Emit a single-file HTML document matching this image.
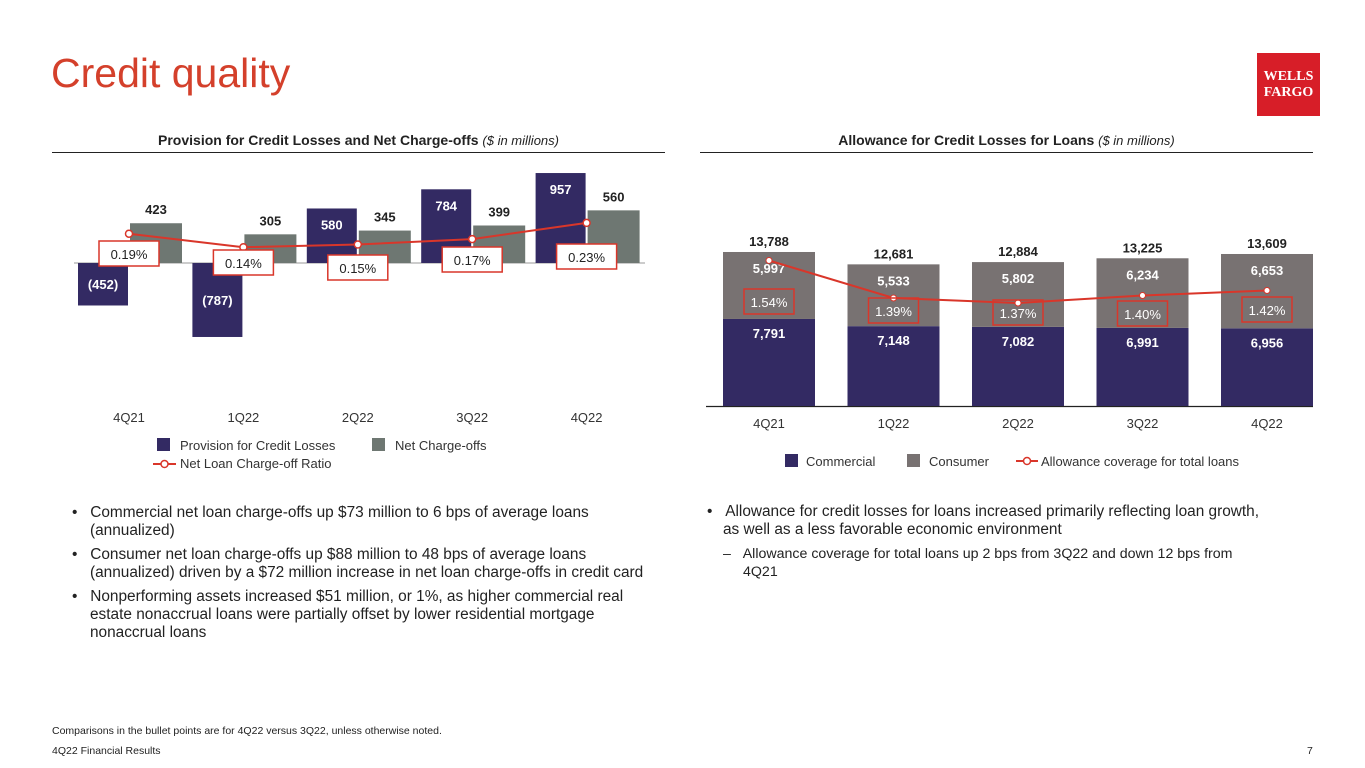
<!DOCTYPE html>
<html><head><meta charset="utf-8">
<style>
body{margin:0;width:1365px;height:768px;background:#fff;font-family:"Liberation Sans",sans-serif;position:relative;overflow:hidden;color:#222}
.a{position:absolute;white-space:nowrap}
.hdr{font-weight:bold;font-size:14px;color:#222}
.hdr i{font-weight:normal;font-size:13px}
.b{font-size:15.4px;color:#222;line-height:18px}
svg text{font-family:"Liberation Sans",sans-serif}
</style></head><body>
<div class="a" style="left:51px;top:50px;font-size:41px;color:#D4402B">Credit quality</div>
<div class="a" style="left:1257px;top:53px;width:63px;height:63px;background:#D71E28;color:#fff;font-family:'Liberation Serif',serif;font-weight:bold;font-size:14px;line-height:16px;text-align:center;display:flex;align-items:center;justify-content:center">WELLS<br>FARGO</div>

<div class="a hdr" style="left:52px;width:613px;top:132px;text-align:center">Provision for Credit Losses and Net Charge-offs <i>($ in millions)</i></div>
<div class="a" style="left:52px;top:152px;width:613px;height:1px;background:#222"></div>
<div class="a hdr" style="left:700px;width:613px;top:132px;text-align:center">Allowance for Credit Losses for Loans <i>($ in millions)</i></div>
<div class="a" style="left:700px;top:152px;width:613px;height:1px;background:#222"></div>

<svg id="left" class="a" style="left:0;top:0" width="680" height="480"></svg>
<svg id="right" class="a" style="left:680px;top:0" width="685" height="480"></svg>

<div class="a b" style="left:72px;top:504px">
<div>•&nbsp;&nbsp;&nbsp;Commercial net loan charge-offs up $73 million to 6 bps of average loans</div>
<div style="padding-left:18px">(annualized)</div>
<div style="margin-top:6px">•&nbsp;&nbsp;&nbsp;Consumer net loan charge-offs up $88 million to 48 bps of average loans</div>
<div style="padding-left:18px">(annualized) driven by a $72 million increase in net loan charge-offs in credit card</div>
<div style="margin-top:6px">•&nbsp;&nbsp;&nbsp;Nonperforming assets increased $51 million, or 1%, as higher commercial real</div>
<div style="padding-left:18px">estate nonaccrual loans were partially offset by lower residential mortgage</div>
<div style="padding-left:18px">nonaccrual loans</div>
</div>
<div class="a b" style="left:707px;top:503px">
<div>•&nbsp;&nbsp;&nbsp;Allowance for credit losses for loans increased primarily reflecting loan growth,</div>
<div style="padding-left:16px">as well as a less favorable economic environment</div>
<div style="padding-left:16px;margin-top:6px;font-size:14.2px">–&nbsp;&nbsp;&nbsp;Allowance coverage for total loans up 2 bps from 3Q22 and down 12 bps from</div>
<div style="padding-left:36px;font-size:14.2px">4Q21</div>
</div>
<div class="a" style="left:52px;top:725px;font-size:10.5px">Comparisons in the bullet points are for 4Q22 versus 3Q22, unless otherwise noted.</div>
<div class="a" style="left:52px;top:745px;font-size:10.5px">4Q22 Financial Results</div>
<div class="a" style="left:1307px;top:745px;font-size:10.5px">7</div>

<script>
const quarters=["4Q21","1Q22","2Q22","3Q22","4Q22"];
const provision=[-452,-787,580,784,957];
const chargeOffs=[423,305,345,399,560];
const ncoRatio=[0.19,0.14,0.15,0.17,0.23];
const commercial=[7791,7148,7082,6991,6956];
const consumer=[5997,5533,5802,6234,6653];
const totals=[13788,12681,12884,13225,13609];
const coverage=[1.54,1.39,1.37,1.40,1.42];

const NS="http://www.w3.org/2000/svg";
function mk(svg,tag,at,txt){const e=document.createElementNS(NS,tag);for(const k in at)e.setAttribute(k,at[k]);if(txt!=null)e.textContent=txt;svg.appendChild(e);return e;}
const NAVY="#332A63",G1="#6E7772",G2="#787272",RED="#D9362A";

// LEFT
const L=document.getElementById('left');
const lx=i=>129+i*114.4;
const ly=v=>263-v*0.094;
const lr=v=>285-270*v;
mk(L,'line',{x1:74,x2:645,y1:263,y2:263,stroke:'#999','stroke-width':1});
quarters.forEach((q,i)=>{
  const p=provision[i],y0=ly(0),yp=ly(p);
  let r=mk(L,'rect',{x:lx(i)-51,y:Math.min(y0,yp),width:50,height:Math.abs(yp-y0),fill:NAVY});
  
  
  const c=chargeOffs[i],yc=ly(c);
  r=mk(L,'rect',{x:lx(i)+1,y:yc,width:52,height:y0-yc,fill:G1});
  
  
  const lab=p<0?'('+Math.abs(p)+')':String(p);
  let t=mk(L,'text',{x:lx(i)-26,y:p<0?(y0+yp)/2+5:yp+21,'text-anchor':'middle','font-size':13,'font-weight':'bold',fill:'#fff'},lab);
  
  
  t=mk(L,'text',{x:lx(i)+27,y:yc-9,'text-anchor':'middle','font-size':13,'font-weight':'bold',fill:'#222'},c);
  
  
  t=mk(L,'text',{x:lx(i),y:422,'text-anchor':'middle','font-size':13,fill:'#333'},q);
  
  
});
let pl=mk(L,'polyline',{points:ncoRatio.map((v,i)=>lx(i)+','+lr(v)).join(' '),fill:'none',stroke:RED,'stroke-width':2});


const lboxY=[241,250,255,247,244];
ncoRatio.forEach((v,i)=>{
  let c=mk(L,'circle',{cx:lx(i),cy:lr(v),r:3.5,fill:'#fff',stroke:RED,'stroke-width':1.5});
  
  
  mk(L,'rect',{x:lx(i)-30,y:lboxY[i],width:60,height:25,fill:'#fff',stroke:RED,'stroke-width':1.5});
  let t=mk(L,'text',{x:lx(i),y:lboxY[i]+18,'text-anchor':'middle','font-size':13,fill:'#222'},v.toFixed(2)+'%');
  
  
});
mk(L,'rect',{x:157,y:438,width:13,height:13,fill:NAVY});
mk(L,'text',{x:180,y:450,'font-size':13,fill:'#333'},'Provision for Credit Losses');
mk(L,'rect',{x:372,y:438,width:13,height:13,fill:G1});
mk(L,'text',{x:395,y:450,'font-size':13,fill:'#333'},'Net Charge-offs');
mk(L,'line',{x1:153,x2:176,y1:464,y2:464,stroke:RED,'stroke-width':2});
mk(L,'circle',{cx:164.5,cy:464,r:3.5,fill:'#fff',stroke:RED,'stroke-width':1.5});
mk(L,'text',{x:180,y:468,'font-size':13,fill:'#333'},'Net Loan Charge-off Ratio');

// RIGHT (offset 680)
const R=document.getElementById('right');
const rx=i=>769-680+i*124.5;
const ry=v=>406-v*0.01117;
const rr=v=>298-(v-1.39)*250-(v>1.5?0:0);
mk(R,'line',{x1:26,x2:633,y1:406.5,y2:406.5,stroke:'#222','stroke-width':1.2});
quarters.forEach((q,i)=>{
  const yc=ry(commercial[i]),yt=ry(commercial[i]+consumer[i]);
  let r=mk(R,'rect',{x:rx(i)-46,y:yc,width:92,height:406-yc,fill:NAVY});
  
  
  r=mk(R,'rect',{x:rx(i)-46,y:yt,width:92,height:yc-yt,fill:G2});
  
  
  let t=mk(R,'text',{x:rx(i),y:yc+19,'text-anchor':'middle','font-size':13,'font-weight':'bold',fill:'#fff'},commercial[i].toLocaleString('en-US'));
  
  
  t=mk(R,'text',{x:rx(i),y:yt+21,'text-anchor':'middle','font-size':13,'font-weight':'bold',fill:'#fff'},consumer[i].toLocaleString('en-US'));
  
  
  t=mk(R,'text',{x:rx(i),y:ry(totals[i])-6,'text-anchor':'middle','font-size':13,'font-weight':'bold',fill:'#222'},totals[i].toLocaleString('en-US'));
  
  
  t=mk(R,'text',{x:rx(i),y:428,'text-anchor':'middle','font-size':13,fill:'#333'},q);
  
  
});
pl=mk(R,'polyline',{points:coverage.map((v,i)=>rx(i)+','+rr(v)).join(' '),fill:'none',stroke:RED,'stroke-width':2});


const rboxY=[289,298,300,301,297];
coverage.forEach((v,i)=>{
  let c=mk(R,'circle',{cx:rx(i),cy:rr(v),r:3,fill:'#fff',stroke:RED,'stroke-width':1});
  
  
  const by=rboxY[i];
  mk(R,'rect',{x:rx(i)-25,y:by,width:50,height:25,fill:'none',stroke:RED,'stroke-width':1.5});
  let t=mk(R,'text',{x:rx(i),y:by+18,'text-anchor':'middle','font-size':13,fill:'#fff'},v.toFixed(2)+'%');
  
  
});
mk(R,'rect',{x:105,y:454,width:13,height:13,fill:NAVY});
mk(R,'text',{x:126,y:466,'font-size':13,fill:'#333'},'Commercial');
mk(R,'rect',{x:227,y:454,width:13,height:13,fill:G2});
mk(R,'text',{x:249,y:466,'font-size':13,fill:'#333'},'Consumer');
mk(R,'line',{x1:336,x2:358,y1:461,y2:461,stroke:RED,'stroke-width':2});
mk(R,'circle',{cx:347,cy:461,r:3.5,fill:'#fff',stroke:RED,'stroke-width':1.5});
mk(R,'text',{x:361,y:466,'font-size':13,fill:'#333'},'Allowance coverage for total loans');
</script>
</body></html>
